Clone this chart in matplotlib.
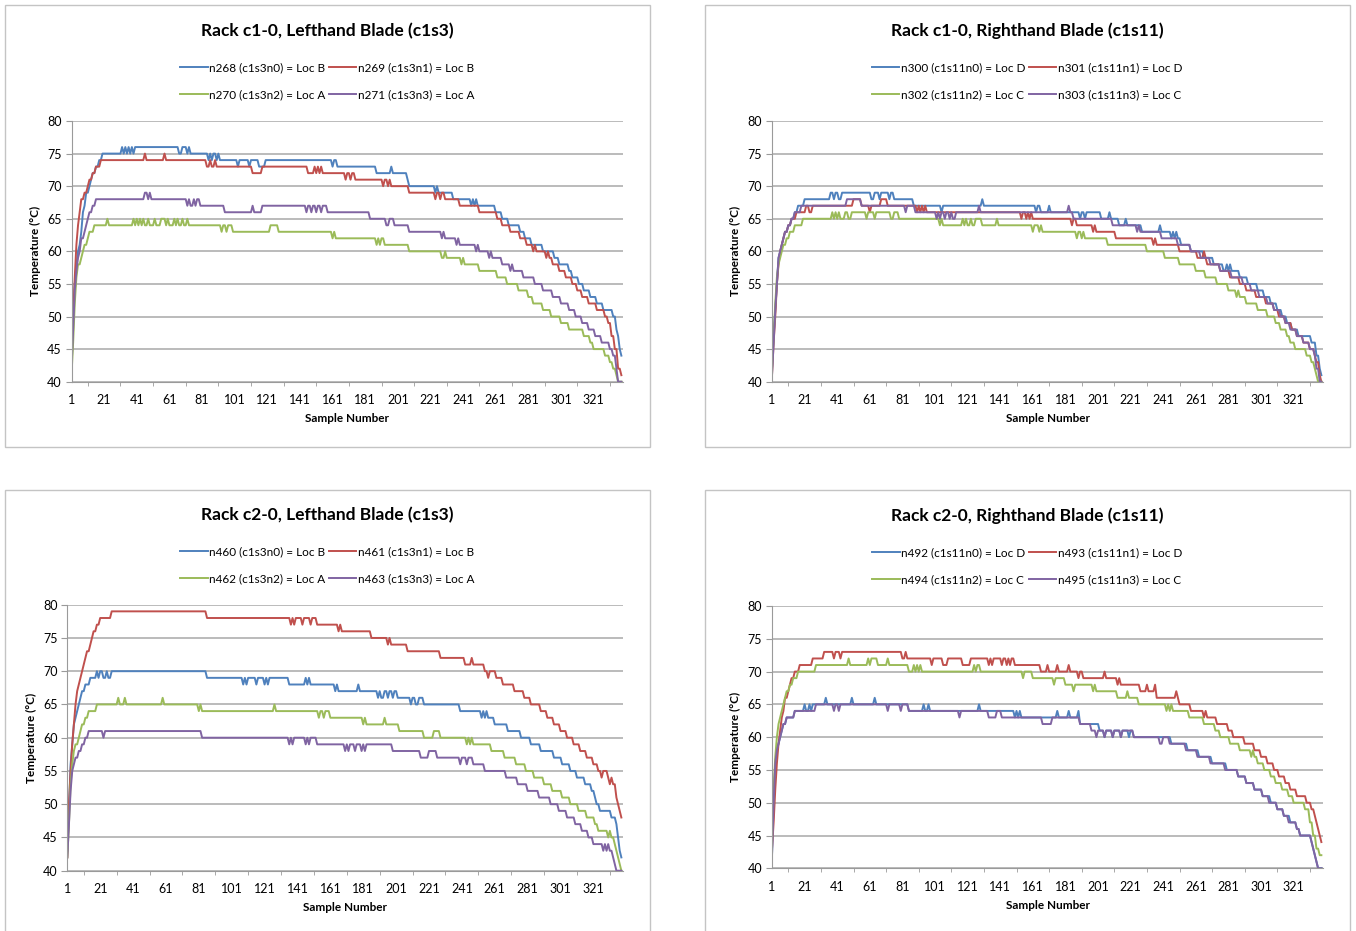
import matplotlib
matplotlib.use('Agg')
import matplotlib.pyplot as plt
import numpy as np
from matplotlib.patches import Rectangle

plt.rcParams['font.family'] = ['Lato', 'DejaVu Sans']

N = 338  # samples per series

# each series: (sample, temperature) breakpoints, value holds until next breakpoint
# --- Rack c1-0, Lefthand Blade ---
n268 = [(1, 43), (2, 50), (3, 55), (4, 58), (5, 60), (6, 61), (7, 63), (8, 66), (9, 67), (10, 69), (12, 70),
        (13, 71), (14, 72), (16, 73), (18, 74), (20, 75), (32, 76), (33, 75), (34, 76), (35, 75), (36, 76),
        (37, 75), (38, 76), (39, 75), (40, 76), (67, 75), (69, 76), (72, 75), (73, 76), (74, 75), (85, 74),
        (86, 75), (87, 74), (88, 75), (90, 74), (91, 75), (92, 74), (103, 73), (104, 74), (110, 73), (111, 74),
        (116, 73), (120, 74), (161, 73), (162, 74), (164, 73), (188, 72), (197, 73), (198, 72), (207, 71),
        (208, 70), (224, 69), (225, 70), (226, 69), (235, 68), (246, 67), (247, 68), (248, 67), (249, 68),
        (250, 67), (261, 66), (265, 65), (269, 64), (276, 63), (279, 62), (283, 61), (290, 60), (297, 59),
        (300, 58), (306, 57), (308, 56), (312, 55), (315, 54), (319, 53), (323, 52), (327, 51), (333, 50),
        (335, 48), (336, 47), (337, 45), (338, 44)]
n269 = [(1, 42), (2, 50), (3, 56), (4, 61), (5, 64), (6, 66), (7, 68), (9, 69), (11, 70), (12, 71), (14, 72),
        (16, 73), (19, 74), (46, 75), (47, 74), (58, 75), (59, 74), (84, 73), (86, 74), (87, 73), (89, 74),
        (90, 73), (112, 72), (118, 73), (146, 72), (150, 73), (151, 72), (152, 73), (153, 72), (154, 73),
        (155, 72), (169, 71), (170, 72), (172, 71), (173, 72), (175, 71), (192, 70), (193, 71), (195, 70),
        (196, 71), (197, 70), (208, 69), (224, 68), (225, 69), (227, 68), (228, 69), (230, 68), (239, 67),
        (251, 66), (262, 65), (265, 64), (270, 63), (276, 62), (280, 61), (284, 60), (285, 61), (286, 60),
        (292, 59), (293, 60), (294, 59), (296, 58), (300, 57), (304, 56), (308, 55), (311, 54), (314, 53),
        (318, 52), (323, 51), (328, 50), (330, 49), (332, 47), (334, 45), (336, 42), (338, 41)]
n270 = [(1, 41), (2, 46), (3, 52), (4, 56), (5, 58), (7, 59), (8, 60), (9, 61), (11, 62), (12, 63), (15, 64),
        (23, 65), (24, 64), (39, 65), (40, 64), (41, 65), (42, 64), (43, 65), (44, 64), (45, 65), (46, 64),
        (48, 65), (49, 64), (52, 65), (53, 64), (56, 65), (59, 64), (60, 65), (61, 64), (64, 65), (65, 64),
        (66, 65), (67, 64), (69, 65), (70, 64), (72, 65), (73, 64), (93, 63), (94, 64), (96, 63), (97, 64),
        (100, 63), (123, 64), (128, 63), (161, 62), (162, 63), (163, 62), (188, 61), (189, 62), (190, 61),
        (191, 62), (193, 61), (208, 60), (228, 59), (230, 60), (231, 59), (240, 58), (241, 59), (242, 58),
        (251, 57), (262, 56), (268, 55), (275, 54), (281, 53), (284, 52), (290, 51), (295, 50), (301, 49),
        (306, 48), (315, 47), (319, 46), (321, 45), (328, 44), (331, 43), (333, 42), (335, 41), (336, 40)]
n271 = [(1, 42), (2, 48), (3, 54), (4, 57), (5, 59), (6, 60), (7, 62), (9, 63), (10, 64), (11, 65), (12, 66),
        (14, 67), (16, 68), (46, 69), (48, 68), (49, 69), (50, 68), (72, 67), (73, 68), (74, 67), (76, 68),
        (77, 67), (78, 68), (80, 67), (95, 66), (112, 67), (113, 66), (118, 67), (145, 66), (146, 67),
        (148, 66), (149, 67), (151, 66), (152, 67), (154, 66), (155, 67), (158, 66), (184, 65), (194, 64),
        (196, 65), (199, 64), (208, 63), (228, 62), (229, 63), (230, 62), (237, 61), (238, 62), (239, 61),
        (249, 60), (250, 61), (251, 60), (257, 59), (258, 60), (259, 59), (265, 58), (270, 57), (271, 58),
        (272, 57), (278, 56), (285, 55), (290, 54), (296, 53), (301, 52), (306, 51), (310, 50), (314, 49),
        (318, 48), (322, 47), (326, 46), (331, 45), (333, 44), (335, 42), (336, 40)]

# --- Rack c1-0, Righthand Blade ---
n300 = [(1, 42), (2, 47), (3, 51), (4, 55), (5, 59), (6, 60), (7, 61), (8, 62), (9, 63), (11, 64), (13, 65),
        (15, 66), (17, 67), (21, 68), (37, 69), (39, 68), (40, 69), (42, 68), (44, 69), (62, 68), (64, 69),
        (67, 68), (68, 69), (73, 68), (74, 69), (76, 68), (88, 67), (105, 66), (106, 67), (130, 68), (131, 67),
        (163, 66), (164, 67), (166, 66), (171, 67), (172, 66), (190, 65), (191, 66), (193, 65), (194, 66),
        (203, 65), (208, 66), (209, 65), (214, 64), (218, 65), (219, 64), (228, 63), (239, 64), (240, 63),
        (246, 62), (247, 63), (248, 62), (249, 63), (250, 62), (252, 61), (258, 60), (266, 59), (272, 58),
        (278, 57), (280, 58), (281, 57), (282, 58), (283, 57), (288, 56), (293, 55), (299, 54), (303, 53),
        (307, 52), (311, 51), (314, 50), (317, 49), (320, 48), (324, 47), (332, 46), (335, 44), (337, 42),
        (338, 41)]
n301 = [(1, 41), (2, 46), (3, 50), (4, 55), (5, 58), (6, 60), (7, 61), (8, 62), (9, 63), (11, 64), (13, 65),
        (16, 66), (22, 67), (24, 66), (26, 67), (51, 68), (56, 67), (61, 66), (62, 67), (68, 68), (72, 67),
        (90, 66), (91, 67), (92, 66), (93, 67), (94, 66), (95, 67), (96, 66), (154, 65), (155, 66), (157, 65),
        (158, 66), (159, 65), (160, 66), (161, 65), (185, 64), (186, 65), (188, 64), (198, 63), (199, 64),
        (200, 63), (212, 62), (235, 61), (236, 62), (237, 61), (251, 60), (262, 59), (266, 60), (267, 59),
        (268, 58), (276, 57), (282, 56), (288, 55), (292, 54), (298, 53), (304, 52), (309, 51), (312, 50),
        (316, 49), (320, 48), (323, 47), (327, 46), (331, 45), (334, 44), (335, 43), (337, 41), (338, 40)]
n302 = [(1, 42), (2, 47), (3, 52), (4, 56), (5, 58), (6, 59), (7, 60), (8, 61), (10, 62), (12, 63), (15, 64),
        (20, 65), (38, 66), (39, 65), (40, 66), (41, 65), (42, 66), (43, 65), (46, 66), (48, 65), (50, 66),
        (59, 65), (60, 66), (64, 65), (65, 66), (74, 65), (76, 66), (79, 65), (104, 64), (105, 65), (106, 64),
        (118, 65), (119, 64), (120, 65), (121, 64), (123, 65), (124, 64), (126, 65), (130, 64), (139, 65),
        (140, 64), (161, 63), (162, 64), (165, 63), (166, 64), (167, 63), (188, 62), (189, 63), (191, 62),
        (192, 63), (193, 62), (207, 61), (231, 60), (242, 59), (251, 58), (261, 57), (267, 56), (274, 55),
        (281, 54), (286, 53), (287, 54), (288, 53), (292, 52), (299, 51), (305, 50), (310, 49), (313, 48),
        (317, 47), (319, 46), (322, 45), (329, 44), (332, 43), (334, 42), (335, 41), (336, 40)]
n303 = [(1, 41), (2, 46), (3, 51), (4, 55), (5, 59), (6, 60), (7, 61), (8, 62), (9, 63), (11, 64), (13, 65),
        (15, 66), (19, 67), (47, 68), (56, 67), (83, 66), (84, 67), (89, 66), (102, 65), (103, 66), (104, 65),
        (105, 66), (107, 65), (108, 66), (110, 65), (111, 66), (112, 65), (114, 66), (128, 67), (129, 66),
        (183, 67), (184, 66), (186, 65), (210, 64), (225, 63), (226, 64), (227, 63), (240, 62), (250, 61),
        (258, 60), (264, 59), (270, 58), (276, 57), (283, 56), (290, 55), (295, 54), (300, 53), (305, 52),
        (309, 51), (313, 50), (316, 49), (319, 48), (323, 47), (327, 46), (331, 45), (334, 44), (335, 42),
        (337, 40)]

# --- Rack c2-0, Lefthand Blade ---
n460 = [(1, 43), (2, 49), (3, 56), (4, 59), (5, 62), (6, 63), (7, 64), (8, 65), (9, 66), (10, 67), (12, 68),
        (15, 69), (19, 70), (20, 69), (21, 70), (23, 69), (25, 70), (26, 69), (28, 70), (86, 69), (108, 68),
        (109, 69), (110, 68), (111, 69), (116, 68), (117, 69), (121, 68), (122, 69), (123, 68), (124, 69),
        (136, 68), (146, 69), (147, 68), (148, 69), (149, 68), (164, 67), (165, 68), (166, 67), (178, 68),
        (179, 67), (190, 66), (191, 67), (192, 66), (194, 67), (196, 66), (197, 67), (199, 66), (200, 67),
        (202, 66), (210, 65), (211, 66), (213, 65), (215, 66), (218, 65), (240, 64), (253, 63), (254, 64),
        (255, 63), (256, 64), (257, 63), (261, 62), (269, 61), (277, 60), (283, 59), (289, 58), (297, 57),
        (302, 56), (307, 55), (311, 54), (316, 53), (320, 52), (322, 51), (323, 50), (325, 49), (332, 48),
        (335, 47), (336, 45), (337, 43), (338, 42)]
n461 = [(1, 42), (2, 50), (3, 55), (4, 59), (5, 62), (6, 65), (7, 67), (8, 68), (9, 69), (10, 70), (11, 71),
        (12, 72), (13, 73), (15, 74), (16, 75), (17, 76), (19, 77), (21, 78), (28, 79), (86, 78), (137, 77),
        (138, 78), (139, 77), (140, 78), (144, 77), (145, 78), (149, 77), (150, 78), (153, 77), (166, 76),
        (167, 77), (168, 76), (186, 75), (196, 74), (197, 75), (198, 74), (208, 73), (228, 72), (243, 71),
        (247, 72), (248, 71), (255, 70), (257, 69), (258, 70), (262, 69), (266, 68), (273, 67), (279, 66),
        (283, 65), (289, 64), (293, 63), (297, 62), (301, 61), (305, 60), (309, 59), (313, 58), (317, 57),
        (321, 56), (324, 55), (326, 54), (327, 55), (330, 54), (331, 53), (332, 54), (333, 53), (335, 51),
        (336, 50), (337, 49), (338, 48)]
n462 = [(1, 42), (2, 47), (3, 53), (4, 56), (5, 58), (6, 59), (8, 60), (9, 61), (10, 62), (12, 63), (14, 64),
        (19, 65), (32, 66), (33, 65), (36, 66), (37, 65), (59, 66), (60, 65), (81, 64), (82, 65), (83, 64),
        (127, 65), (128, 64), (154, 63), (155, 64), (157, 63), (158, 64), (161, 63), (181, 62), (182, 63),
        (183, 62), (194, 63), (195, 62), (203, 61), (218, 60), (224, 61), (228, 60), (244, 59), (245, 60),
        (246, 59), (247, 60), (248, 59), (259, 58), (267, 57), (274, 56), (280, 55), (285, 54), (291, 53),
        (296, 52), (302, 51), (307, 50), (312, 49), (317, 48), (322, 47), (324, 46), (330, 45), (331, 46),
        (332, 45), (334, 44), (335, 43), (336, 42), (337, 41), (338, 40)]
n463 = [(1, 42), (2, 47), (3, 52), (4, 55), (5, 56), (6, 57), (8, 58), (10, 59), (12, 60), (14, 61), (23, 60),
        (24, 61), (83, 60), (136, 59), (137, 60), (138, 59), (139, 60), (146, 59), (147, 60), (148, 59),
        (149, 60), (153, 59), (170, 58), (171, 59), (172, 58), (173, 59), (176, 58), (177, 59), (180, 58),
        (181, 59), (182, 58), (183, 59), (199, 58), (216, 57), (221, 58), (226, 57), (240, 56), (241, 57),
        (244, 56), (245, 57), (248, 56), (255, 55), (268, 54), (275, 53), (281, 52), (288, 51), (295, 50),
        (300, 49), (305, 48), (310, 47), (314, 46), (318, 45), (321, 44), (327, 43), (328, 44), (329, 43),
        (330, 44), (331, 43), (333, 42), (334, 41), (335, 40)]

# --- Rack c2-0, Righthand Blade ---
n492 = [(1, 42), (2, 50), (3, 56), (4, 58), (5, 59), (6, 60), (7, 61), (8, 62), (10, 63), (15, 64), (21, 65),
        (22, 64), (24, 65), (25, 64), (26, 65), (34, 66), (35, 65), (50, 66), (51, 65), (64, 66), (65, 65),
        (85, 64), (94, 65), (95, 64), (97, 65), (98, 64), (128, 65), (129, 64), (150, 63), (151, 64),
        (152, 63), (153, 64), (154, 63), (176, 64), (177, 63), (183, 64), (184, 63), (189, 64), (190, 62),
        (202, 61), (205, 60), (206, 61), (210, 60), (211, 61), (215, 60), (216, 61), (220, 60), (221, 61),
        (223, 60), (246, 59), (256, 58), (263, 57), (271, 56), (280, 55), (287, 54), (292, 53), (297, 52),
        (302, 51), (307, 50), (311, 49), (315, 48), (319, 47), (323, 46), (325, 45), (332, 44), (333, 43),
        (334, 42), (335, 41), (336, 40)]
n493 = [(1, 43), (2, 47), (3, 52), (4, 56), (5, 59), (6, 61), (7, 63), (8, 64), (9, 66), (11, 67), (12, 68),
        (13, 69), (15, 70), (18, 71), (26, 72), (33, 73), (39, 72), (40, 73), (43, 72), (44, 73), (81, 72),
        (83, 73), (84, 72), (99, 71), (100, 72), (106, 71), (109, 72), (118, 71), (123, 72), (134, 71),
        (135, 72), (136, 71), (137, 72), (142, 71), (143, 72), (145, 71), (146, 72), (147, 71), (148, 72),
        (150, 71), (166, 70), (170, 71), (171, 70), (176, 71), (177, 70), (183, 71), (184, 70), (189, 69),
        (190, 70), (192, 69), (205, 70), (206, 69), (213, 68), (214, 69), (215, 68), (227, 67), (231, 68),
        (232, 67), (236, 68), (237, 66), (249, 67), (250, 66), (251, 65), (258, 64), (266, 63), (267, 64),
        (268, 63), (274, 62), (281, 61), (284, 60), (291, 59), (297, 58), (301, 57), (305, 56), (309, 55),
        (312, 54), (316, 53), (319, 52), (323, 51), (329, 50), (332, 49), (334, 48), (335, 47), (336, 46),
        (337, 45), (338, 44)]
n494 = [(1, 44), (2, 52), (3, 57), (4, 60), (5, 62), (6, 63), (7, 64), (8, 65), (9, 66), (10, 67), (12, 68),
        (14, 69), (17, 70), (28, 71), (48, 72), (49, 71), (60, 72), (61, 71), (62, 72), (66, 71), (72, 72),
        (73, 71), (85, 70), (88, 71), (89, 70), (90, 71), (91, 70), (92, 71), (93, 70), (125, 71), (126, 70),
        (127, 71), (129, 70), (155, 69), (156, 70), (161, 69), (174, 68), (175, 69), (181, 68), (186, 67),
        (187, 68), (198, 67), (199, 68), (200, 67), (213, 66), (219, 67), (220, 66), (226, 65), (243, 64),
        (244, 65), (245, 64), (246, 65), (247, 64), (257, 63), (266, 62), (273, 61), (276, 60), (282, 59),
        (288, 58), (295, 57), (296, 58), (297, 57), (299, 56), (303, 55), (307, 54), (310, 53), (314, 52),
        (318, 51), (321, 50), (328, 49), (331, 47), (333, 45), (335, 43), (337, 42)]
n495 = [(1, 42), (2, 50), (3, 56), (4, 58), (5, 59), (6, 60), (7, 61), (8, 62), (10, 63), (15, 64), (28, 65),
        (39, 64), (40, 65), (42, 64), (43, 65), (72, 64), (73, 65), (80, 64), (81, 65), (85, 64), (116, 63),
        (117, 64), (134, 63), (139, 64), (142, 63), (167, 62), (173, 63), (190, 62), (197, 61), (200, 60),
        (201, 61), (205, 60), (206, 61), (210, 60), (211, 61), (215, 60), (216, 61), (223, 60), (239, 59),
        (241, 60), (245, 59), (255, 58), (262, 57), (270, 56), (279, 55), (287, 54), (292, 53), (297, 52),
        (302, 51), (306, 50), (311, 49), (315, 48), (318, 47), (323, 46), (325, 45), (332, 44), (333, 43),
        (334, 42), (335, 41), (336, 40)]

titles = ['Rack c1-0, Lefthand Blade (c1s3)', 'Rack c1-0, Righthand Blade (c1s11)',
          'Rack c2-0, Lefthand Blade (c1s3)', 'Rack c2-0, Righthand Blade (c1s11)']
series = [[n268, n269, n270, n271], [n300, n301, n302, n303],
          [n460, n461, n462, n463], [n492, n493, n494, n495]]
labels = [['n268 (c1s3n0) = Loc B', 'n269 (c1s3n1) = Loc B', 'n270 (c1s3n2) = Loc A', 'n271 (c1s3n3) = Loc A'],
          ['n300 (c1s11n0) = Loc D', 'n301 (c1s11n1) = Loc D', 'n302 (c1s11n2) = Loc C', 'n303 (c1s11n3) = Loc C'],
          ['n460 (c1s3n0) = Loc B', 'n461 (c1s3n1) = Loc B', 'n462 (c1s3n2) = Loc A', 'n463 (c1s3n3) = Loc A'],
          ['n492 (c1s11n0) = Loc D', 'n493 (c1s11n1) = Loc D', 'n494 (c1s11n2) = Loc C', 'n495 (c1s11n3) = Loc C']]
colors = ['#4F81BD', '#C0504D', '#9BBB59', '#8064A2']
x_ticks = list(range(1, 322, 20))
y_ticks = [40, 45, 50, 55, 60, 65, 70, 75, 80]

W, H = 1356, 931
# pixel layout: chart box, plot area, title y, legend centre y, y-label x
boxes = [(5, 5, 650, 447), (705, 5, 1350, 447), (5, 490, 650, 940), (705, 490, 1350, 940)]
plots = [(71.5, 121, 623, 381.7), (772, 121, 1323, 381.7), (67.3, 604.7, 623, 870.7), (772, 606, 1323, 868.3)]
title_y = [31, 31, 515, 516]
legend_y = [81, 81, 565.5, 566]
ylabel_x = [35, 735, 31, 735]


def expand(bp):
    vals = np.empty(N)
    for i, (s, v) in enumerate(bp):
        end = bp[i + 1][0] if i + 1 < len(bp) else N + 1
        vals[s - 1:end - 1] = v
    return vals


def fx(x):
    return x / W


def fy(y):
    return 1 - y / H


fig = plt.figure(figsize=(W / 100, H / 100), dpi=100)
samples = np.arange(1, N + 1)

for k in range(4):
    bx0, by0, bx1, by1 = boxes[k]
    fig.patches.append(Rectangle((fx(bx0), fy(by1)), fx(bx1 - bx0), (by1 - by0) / H,
                                 transform=fig.transFigure, fill=False, edgecolor='#c4c4c4', lw=1))
    x0, y0, x1, y1 = plots[k]
    ax = fig.add_axes([fx(x0), fy(y1), fx(x1 - x0), (y1 - y0) / H])
    handles = []
    for bp, c, lab in zip(series[k], colors, labels[k]):
        h, = ax.plot(samples, expand(bp), color=c, lw=1.4, label=lab)
        handles.append(h)
    ax.set_xlim(1, 339)
    ax.set_ylim(40, 80)
    ax.set_yticks(y_ticks)
    ax.set_xticks(x_ticks)
    ax.set_xticks(list(range(1, 340, 10)), minor=True)
    ax.tick_params(axis='x', which='major', length=0, pad=9, labelsize=9)
    ax.tick_params(axis='x', which='minor', length=3, color='#9a9a9a')
    ax.tick_params(axis='y', length=4, color='#9a9a9a', labelsize=9, pad=3)
    ax.grid(axis='y', color='#a8a8a8', lw=1.1)
    ax.set_axisbelow(True)
    for sp in ['top', 'right']:
        ax.spines[sp].set_visible(False)
    for sp in ['left', 'bottom']:
        ax.spines[sp].set_color('#9a9a9a')
    ax.set_xlabel('Sample Number', fontsize=8.5, fontweight='bold', labelpad=5)
    fig.text(fx(ylabel_x[k]), fy((y0 + y1) / 2), 'Temperature (°C)', rotation=90, ha='center', va='center',
             fontsize=8.5, fontweight='bold')
    cx = (bx0 + bx1) / 2
    fig.text(fx(cx), fy(title_y[k]), titles[k], ha='center', va='center', fontsize=12.5, fontweight='bold')
    # legend is row-major in the original: reorder for column filling
    order = [0, 2, 1, 3]
    fig.legend([handles[i] for i in order], [labels[k][i] for i in order], ncol=2, loc='center',
               bbox_to_anchor=(fx(cx), fy(legend_y[k])), frameon=False, fontsize=8.5,
               handlelength=2.3, handletextpad=0.15, columnspacing=0.3, labelspacing=1.35)

fig.savefig('out.png', dpi=100)
